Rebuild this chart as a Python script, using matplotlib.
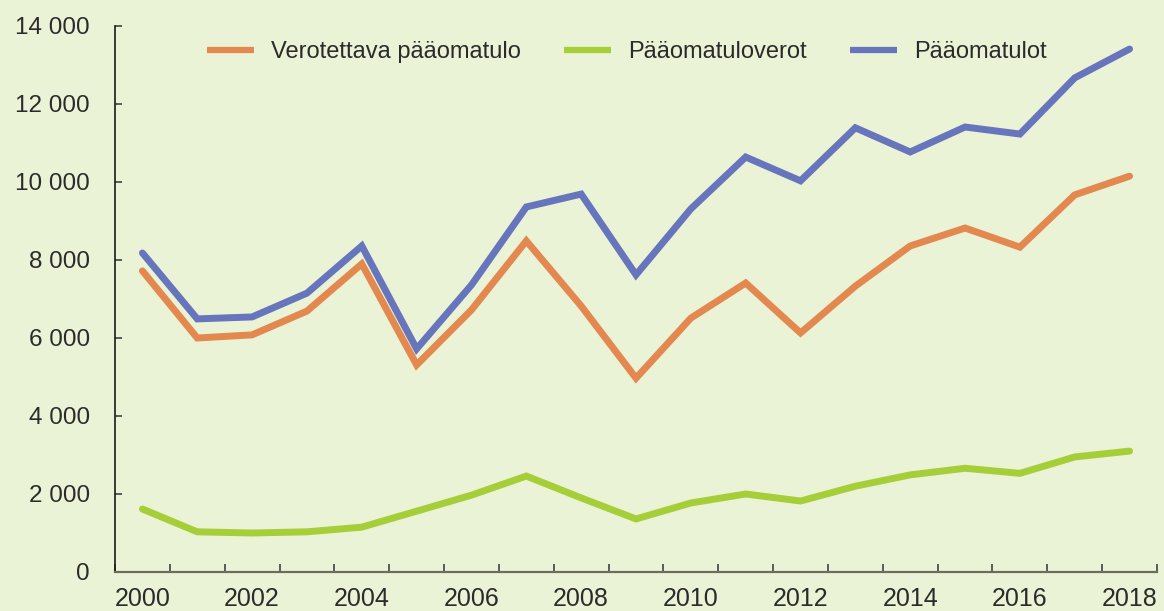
import matplotlib
matplotlib.use("Agg")
import matplotlib.pyplot as plt
from matplotlib.ticker import FixedLocator, FuncFormatter

years = list(range(2000, 2019))
verotettava = [7720, 6000, 6080, 6690, 7900, 5310, 6720, 8490, 6820, 4970,
               6510, 7410, 6130, 7330, 8360, 8820, 8330, 9670, 10150]
verot = [1615, 1030, 1000, 1030, 1150, 1560, 1970, 2460, 1900, 1360,
         1770, 2000, 1820, 2200, 2490, 2660, 2530, 2950, 3100]
tulot = [8180, 6490, 6540, 7150, 8360, 5720, 7360, 9360, 9690, 7620,
         9310, 10640, 10030, 11390, 10770, 11410, 11230, 12670, 13410]
labels = ["Verotettava pääomatulo", "Pääomatuloverot", "Pääomatulot"]
colors = ["#E3884F", "#A6CE39", "#6775BD"]

bg = "#EBF3D6"
plt.rcParams['font.family'] = ['Liberation Sans', 'DejaVu Sans']

fig = plt.figure(figsize=(11.64, 6.11), dpi=100, facecolor=bg)
ax = fig.add_axes([115/1164, 39/611, (1157-115)/1164, (572-26)/611])
ax.set_facecolor(bg)

x = list(range(len(years)))
for series, lab, col in zip([verotettava, verot, tulot], labels, colors):
    ax.plot(x, series, color=col, lw=5, label=lab, solid_capstyle='round',
            solid_joinstyle='miter')

ax.set_xlim(-0.5, len(years) - 0.5)
ax.set_ylim(0, 14000)

ax.yaxis.set_major_locator(FixedLocator(range(0, 14001, 2000)))
ax.yaxis.set_major_formatter(FuncFormatter(lambda v, p: f"{int(v):,}".replace(",", " ")))

ax.set_xticks(x[::2])
ax.set_xticklabels([str(y) for y in years[::2]])
ax.set_xticks([i + 0.5 for i in range(-1, len(years))], minor=True)

for s in ["top", "right"]:
    ax.spines[s].set_visible(False)
ax.spines["left"].set_color("#1a1a1a")
ax.spines["left"].set_linewidth(1.2)
ax.spines["bottom"].set_color("#6b6b60")
ax.spines["bottom"].set_linewidth(1.6)

ax.tick_params(axis="y", direction="in", length=5, width=1.1, color="#333333",
               labelsize=17.5, labelcolor="#2b2b2b", pad=18)
ax.tick_params(axis="x", which="major", length=0, labelsize=18,
               labelcolor="#2b2b2b", pad=11)
ax.tick_params(axis="x", which="minor", direction="in", length=6, width=1.1,
               color="#333333")
for lbl in ax.get_yticklabels():
    lbl.set_horizontalalignment("right")

leg = ax.legend(loc="center", bbox_to_anchor=(0.491, 0.952), ncol=3,
                frameon=False, fontsize=17, handlelength=2.0, handletextpad=0.7,
                columnspacing=1.85, borderaxespad=0.0)
for line in leg.get_lines():
    line.set_linewidth(4.5)
    line.set_solid_capstyle('butt')
for t in leg.get_texts():
    t.set_color("#2b2b2b")

fig.savefig("out.png", dpi=100, facecolor=bg)
